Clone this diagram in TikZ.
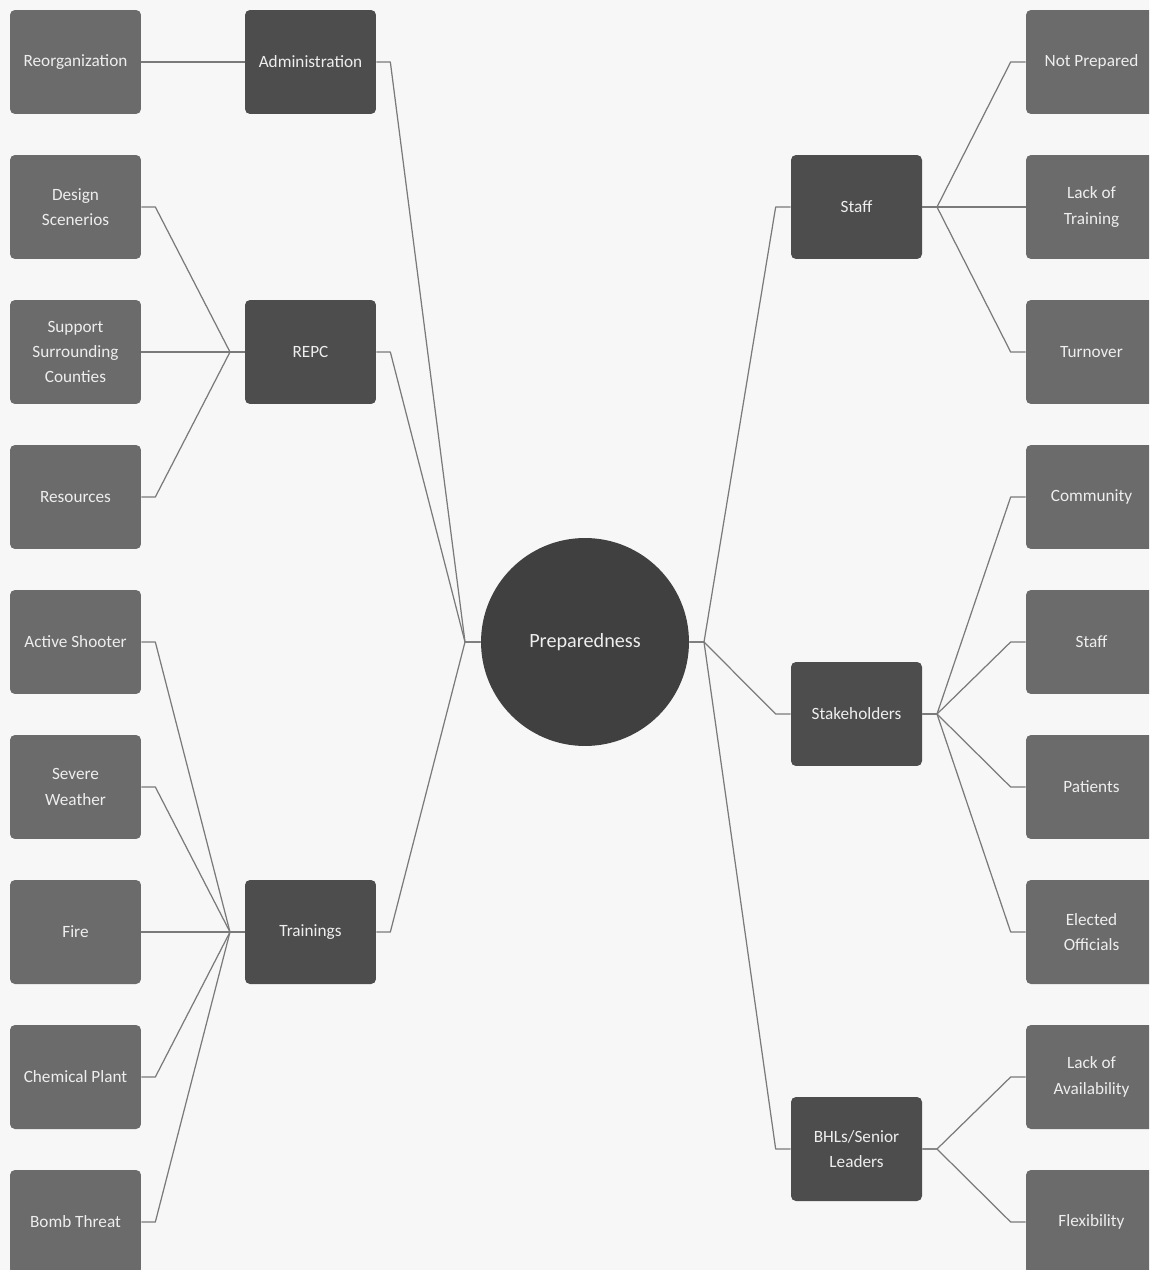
\documentclass[tikz,border=0pt]{standalone}
\usepackage{fontspec}
\setmainfont{Carlito}
\usetikzlibrary{calc}
\definecolor{pageGray}{HTML}{F7F7F7}
\definecolor{leafGray}{HTML}{6B6B6B}
\definecolor{branchGray}{HTML}{4D4D4D}
\definecolor{hubGray}{HTML}{404040}
\definecolor{linkGray}{HTML}{7A7A7A}
\definecolor{labelWhite}{HTML}{EEEEEE}
\tikzset{
  leaf box/.style={
    rectangle,
    rounded corners=2.8pt,
    fill=leafGray,
    draw=none,
    minimum width=2.62cm,
    minimum height=2.08cm,
    inner sep=1pt,
    align=center,
    text=labelWhite,
    font=\fontsize{9.8}{14.5}\selectfont
  },
  branch box/.style={
    leaf box,
    fill=branchGray
  },
  hub/.style={
    circle,
    fill=hubGray,
    minimum size=4.16cm,
    inner sep=0pt,
    text=labelWhite,
    font=\fontsize{11.5}{14}\selectfont
  },
  link/.style={
    draw=linkGray,
    line width=0.7pt,
    line join=round
  }
}

\begin{document}
\begin{tikzpicture}[x=0.02cm, y=-0.02cm]
    % page
    \fill[pageGray] (0,0) rectangle (1149,1270);
    \clip (0,0) rectangle (1149,1270);

    % centre
    \node[hub] (prep) at (585,642) {Preparedness};
    \coordinate (hubL) at (465,642);
    \coordinate (hubR) at (704,642);

    % left branches
    \node[branch box] (admin) at (310.5,62) {Administration};
    \node[branch box] (repc) at (310.5,352) {REPC};
    \node[branch box] (trainings) at (310.5,932) {Trainings};
    \coordinate (repcJ) at (230,352);
    \coordinate (trainingsJ) at (230,932);

    % right branches
    \node[branch box] (staff) at (856.5,207) {Staff};
    \node[branch box] (stakeholders) at (856.5,714) {Stakeholders};
    \node[branch box] (bhls) at (856.5,1149) {BHLs/Senior\\Leaders};
    \coordinate (staffJ) at (937,207);
    \coordinate (stakeholdersJ) at (937,714);
    \coordinate (bhlsJ) at (937,1149);

    % left leaves
    \foreach \name/\ypos/\txt in {
        reorg/62/Reorganization,
        design/207/{Design\\Scenerios},
        support/352/{Support\\Surrounding\\Counties},
        resources/497/Resources,
        shooter/642/Active Shooter,
        weather/787/{Severe\\Weather},
        fire/932/Fire,
        chemical/1077/Chemical Plant,
        bomb/1222/Bomb Threat} {
      \node[leaf box] (\name) at (75.5,\ypos) {\txt};
    }

    % right leaves
    \foreach \name/\ypos/\txt in {
        notprep/62/Not Prepared,
        lacktrain/207/{Lack of\\Training},
        turnover/352/Turnover,
        community/497/Community,
        staffleaf/642/Staff,
        patients/787/Patients,
        elected/932/{Elected\\Officials},
        lackavail/1077/{Lack of\\Availability},
        flexibility/1222/Flexibility} {
      \node[leaf box] (\name) at (1091.5,\ypos) {\txt};
    }

    % hub to branches
    \foreach \b in {admin,repc,trainings}
      \draw[link] (\b.east) -- ++(14,0) -- (hubL) -- (prep.west);
    \foreach \b in {staff,stakeholders,bhls}
      \draw[link] (\b.west) -- ++(-15,0) -- (hubR) -- (prep.east);

    % branches to leaves
    \draw[link] (reorg.east) -- (admin.west);
    \foreach \l in {design,support,resources}
      \draw[link] (\l.east) -- ++(14,0) -- (repcJ) -- (repc.west);
    \foreach \l in {shooter,weather,fire,chemical,bomb}
      \draw[link] (\l.east) -- ++(14,0) -- (trainingsJ) -- (trainings.west);
    \foreach \l in {notprep,lacktrain,turnover}
      \draw[link] (\l.west) -- ++(-15,0) -- (staffJ) -- (staff.east);
    \foreach \l in {community,staffleaf,patients,elected}
      \draw[link] (\l.west) -- ++(-15,0) -- (stakeholdersJ) -- (stakeholders.east);
    \foreach \l in {lackavail,flexibility}
      \draw[link] (\l.west) -- ++(-15,0) -- (bhlsJ) -- (bhls.east);

\end{tikzpicture}
\end{document}
